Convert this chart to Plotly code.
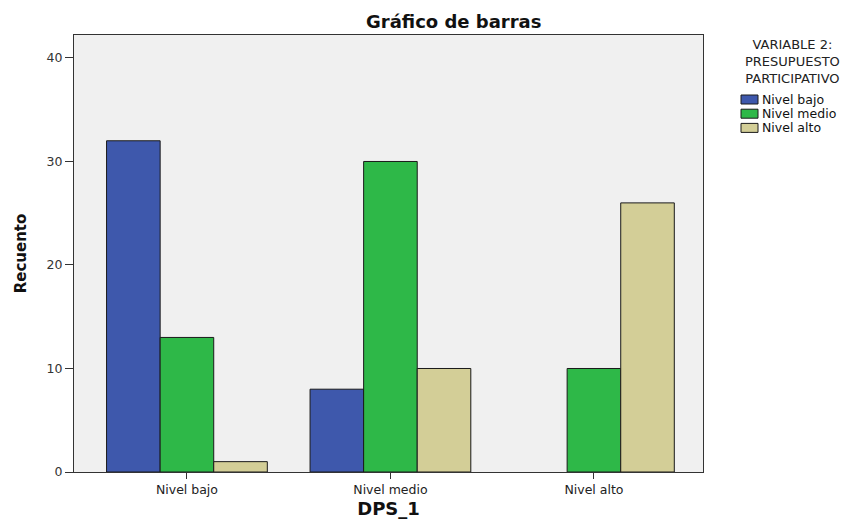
import plotly.graph_objects as go

categories = ["Nivel bajo", "Nivel medio", "Nivel alto"]
series_names = ["Nivel bajo", "Nivel medio", "Nivel alto"]
nivel_bajo = [32, 8, 0]
nivel_medio = [13, 30, 10]
nivel_alto = [1, 10, 26]
colors = ["#3E58AC", "#2EB848", "#D3CE97"]
y_ticks = [0, 10, 20, 30, 40]
legend_title_lines = ["VARIABLE 2:", "PRESUPUESTO", "PARTICIPATIVO"]

W, H = 868, 519
L, R, T, B = 74, 165, 35, 47
PW, PH = W - L - R, H - T - B


def px_x(px):
    return (px - L) / PW


def px_y(py):
    return (H - B - py) / PH


FONT = "DejaVu Sans, Liberation Sans, Arial, sans-serif"

fig = go.Figure()
for name, vals, col in zip(series_names, [nivel_bajo, nivel_medio, nivel_alto], colors):
    fig.add_trace(go.Bar(
        x=categories, y=vals, name=name, showlegend=False,
        marker=dict(color=col,
                    line=dict(color="#1a1a1a", width=[1 if v > 0 else 0 for v in vals])),
    ))

fig.update_layout(
    width=W, height=H,
    margin=dict(l=L, r=R, t=T, b=B, autoexpand=False),
    paper_bgcolor="white",
    plot_bgcolor="#F0F0F0",
    barmode="group",
    bargap=0.21, bargroupgap=0,
    font=dict(family=FONT, size=12, color="#222222"),
    showlegend=False,
    xaxis=dict(
        range=[-0.555, 2.536], showgrid=False, ticks="outside", ticklen=6, tickcolor="#333",
        showline=True, linecolor="#333", linewidth=1, mirror=True,
        title=dict(text="<b>DPS_1</b>", font=dict(size=18, family=FONT, color="#111111"), standoff=7),
        tickfont=dict(size=12.5, family=FONT, color="#222222"),
    ),
    yaxis=dict(
        range=[0, 42.22], tickvals=y_ticks, showgrid=False, zeroline=False,
        ticks="outside", ticklen=8, tickcolor="#333",
        showline=True, linecolor="#333", linewidth=1, mirror=True,
        title=dict(text="<b>Recuento</b>", font=dict(size=15, family=FONT, color="#111111"), standoff=16),
        tickfont=dict(size=12.5, family=FONT, color="#333333"),
    ),
)

# Chart title
fig.add_annotation(
    text="<b>Gráfico de barras</b>", xref="paper", yref="paper",
    x=px_x(453), y=px_y(21), xanchor="center", yanchor="middle", showarrow=False,
    font=dict(size=18, family=FONT, color="#111111"),
)

# Legend title
fig.add_annotation(
    text="<br>".join(legend_title_lines), xref="paper", yref="paper",
    x=px_x(792), y=px_y(61), xanchor="center", yanchor="middle", align="center",
    showarrow=False, font=dict(size=13, family=FONT, color="#222222"),
)

# Legend entries
for i, (name, col) in enumerate(zip(series_names, colors)):
    yc = 99.5 + 14.2 * i
    fig.add_shape(
        type="rect", xref="paper", yref="paper",
        x0=px_x(741), x1=px_x(758), y0=px_y(yc - 4.5), y1=px_y(yc + 4.5),
        fillcolor=col, line=dict(color="#1a1a1a", width=1),
    )
    fig.add_annotation(
        text=name, xref="paper", yref="paper",
        x=px_x(760), y=px_y(yc), xanchor="left", yanchor="middle",
        showarrow=False, font=dict(size=12.5, family=FONT, color="#111111"),
    )

fig.write_html("out.html", config={"displayModeBar": False},
               post_script="document.body.style.margin='0';")
